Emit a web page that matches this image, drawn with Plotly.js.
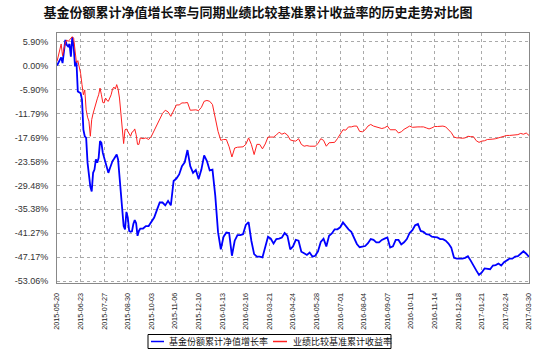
<!DOCTYPE html>
<html>
<head>
<meta charset="utf-8">
<script src="https://cdn.plot.ly/plotly-3.0.1.min.js"></script>
<style>html,body{margin:0;padding:0;background:#fff;}#chart{width:550px;height:352px;}</style>
</head>
<body>
<div id="chart"></div>
<script>
const dates = [
"2015-05-20","2015-05-22","2015-05-24","2015-05-26","2015-05-28","2015-05-30","2015-06-01","2015-06-03","2015-06-05","2015-06-07",
"2015-06-09","2015-06-11","2015-06-13","2015-06-15","2015-06-17","2015-06-19","2015-06-21","2015-06-23","2015-06-25","2015-06-27",
"2015-06-29","2015-07-01","2015-07-03","2015-07-05","2015-07-07","2015-07-09","2015-07-11","2015-07-13","2015-07-15","2015-07-17",
"2015-07-19","2015-07-21","2015-07-23","2015-07-25","2015-07-27","2015-07-29","2015-07-31","2015-08-02","2015-08-04","2015-08-06",
"2015-08-08","2015-08-10","2015-08-12","2015-08-14","2015-08-16","2015-08-18","2015-08-20","2015-08-22","2015-08-24","2015-08-26",
"2015-08-28","2015-08-30","2015-09-01","2015-09-03","2015-09-05","2015-09-07","2015-09-09","2015-09-11","2015-09-13","2015-09-15",
"2015-09-17",
"2015-09-21","2015-09-25","2015-09-29","2015-10-03","2015-10-07","2015-10-11","2015-10-15","2015-10-19","2015-10-23","2015-10-27",
"2015-10-31","2015-11-04","2015-11-08","2015-11-12","2015-11-16","2015-11-20","2015-11-24","2015-11-28","2015-12-02","2015-12-06",
"2015-12-10","2015-12-14","2015-12-18","2015-12-22","2015-12-26","2015-12-30","2016-01-03","2016-01-07","2016-01-11","2016-01-15",
"2016-01-19","2016-01-23","2016-01-27","2016-01-31","2016-02-04","2016-02-08","2016-02-12","2016-02-16","2016-02-20","2016-02-24",
"2016-02-28","2016-03-03","2016-03-07","2016-03-11","2016-03-15","2016-03-19","2016-03-23","2016-03-27","2016-03-31","2016-04-04",
"2016-04-08","2016-04-12","2016-04-16","2016-04-20","2016-04-24","2016-04-28","2016-05-02","2016-05-06","2016-05-10","2016-05-14",
"2016-05-18","2016-05-22","2016-05-26","2016-05-30","2016-06-03","2016-06-07","2016-06-11","2016-06-15","2016-06-19","2016-06-23",
"2016-06-27","2016-07-01","2016-07-05","2016-07-09","2016-07-13","2016-07-17","2016-07-21","2016-07-25","2016-07-29","2016-08-02",
"2016-08-06","2016-08-10","2016-08-14","2016-08-18","2016-08-22","2016-08-26","2016-08-30","2016-09-03","2016-09-07","2016-09-11",
"2016-09-15","2016-09-19","2016-09-23","2016-09-27","2016-10-01","2016-10-05","2016-10-09","2016-10-13","2016-10-17","2016-10-21",
"2016-10-25","2016-10-29","2016-11-02","2016-11-06","2016-11-10","2016-11-14","2016-11-18","2016-11-22","2016-11-26","2016-11-30",
"2016-12-04","2016-12-08","2016-12-12","2016-12-16","2016-12-20","2016-12-24","2016-12-28","2017-01-01","2017-01-05","2017-01-09",
"2017-01-13","2017-01-17","2017-01-21","2017-01-25","2017-01-29","2017-02-02","2017-02-06","2017-02-10","2017-02-14","2017-02-18",
"2017-02-22","2017-02-26","2017-03-02","2017-03-06","2017-03-10","2017-03-14","2017-03-18","2017-03-22","2017-03-26","2017-03-30"
];

const fundGrowth = [
0.0, 0.6, 1.2, 2.0, 0.6, 3.7, 6.3, 5.1, 4.7, 5.3,
2.2, 7.0, 4.7, -0.2, 1.0, -6.4, -6.6, -6.8, -8.4, -15.8,
-17.4, -17.8, -23.9, -26.8, -29.8, -31.0, -26.4, -25.6, -23.1, -23.9,
-22.7, -18.6, -19.0, -21.5, -22.7, -23.9, -25.6, -26.4, -25.4, -24.3,
-23.5, -23.0, -22.3, -21.9, -23.1, -26.8, -30.1, -35.4, -39.5, -40.3,
-36.0, -37.4, -40.7, -40.9, -40.8, -39.0, -38.0, -38.8, -41.9, -40.7,
-40.1,
-40.1, -39.5, -39.5, -38.6, -37.4, -35.5, -33.7, -33.7, -34.4, -33.3,
-34.4, -28.4, -27.8, -26.8, -24.75, -23.8, -20.8, -24.75, -26.4, -25.7,
-27.9, -25.6, -22.1, -23.5, -25.8, -25.6, -32.0, -41.0, -45.2, -42.1,
-41.1, -41.2, -46.8, -43.1, -41.7, -41.7, -41.5, -39.2, -38.5, -43.1,
-46.4, -47.0, -47.0, -47.2, -44.8, -42.1, -42.6, -43.8, -42.7, -42.6,
-42.3, -41.2, -41.9, -45.2, -44.5, -42.9, -43.1, -45.8, -46.2, -46.6,
-46.0, -47.0, -46.8, -45.7, -43.4, -42.6, -44.5, -41.9, -41.3, -40.3,
-40.3, -39.8, -38.6, -39.6, -40.3, -40.9, -42.3, -43.9, -44.7, -44.5,
-44.4, -43.7, -42.7, -42.9, -43.5, -43.5, -42.9, -42.6, -42.3, -44.8,
-44.5, -42.9, -42.9, -44.0, -43.5, -42.7, -41.2, -40.5, -39.3, -39.0,
-40.7, -40.9, -41.5, -41.6, -42.1, -42.2, -42.3, -42.7, -42.7, -43.1,
-43.8, -44.8, -47.3, -47.5, -47.5, -47.5, -47.3, -46.9, -48.0, -49.4,
-50.4, -51.5, -50.9, -49.9, -50.0, -50.1, -49.2, -49.1, -48.7, -49.2,
-48.4, -47.9, -47.5, -47.5, -47.0, -46.9, -46.3, -45.7, -46.3, -47.1
];

const benchmark = [
1.0, 2.4, 3.2, 5.3, 2.4, 4.3, 5.6, 6.3, 5.9, 6.3,
6.7, 7.1, 6.7, 4.3, 0.7, 1.2, -0.6, -1.9, -4.7, -7.2,
-6.0, -10.9, -12.7, -13.7, -17.4, -13.3, -11.8, -10.4, -9.4, -8.2,
-7.2, -5.55, -7.2, -9.1, -9.2, -8.0, -8.6, -8.8, -8.0, -7.2,
-5.8, -5.3, -5.8, -4.7, -5.8, -8.0, -11.7, -15.4, -19.2, -15.8,
-15.6, -16.2, -17.0, -17.4, -16.4, -16.2, -15.6, -17.0, -19.4, -19.4,
-17.8,
-18.0, -17.8, -18.2, -17.4, -15.9, -14.5, -12.9, -11.8, -11.0, -11.4,
-12.5, -11.0, -9.7, -9.7, -9.2, -9.2, -9.1, -11.0, -10.9, -10.9,
-11.1, -10.3, -8.8, -8.6, -8.8, -9.6, -12.9, -16.2, -18.4, -18.2,
-18.2, -20.0, -22.5, -20.3, -20.1, -20.0, -20.0, -19.4, -17.8, -19.4,
-21.9, -19.4, -19.4, -20.5, -19.3, -17.6, -17.6, -17.6, -17.1, -16.4,
-16.9, -16.6, -17.1, -18.3, -18.5, -18.6, -18.0, -19.4, -19.85, -19.7,
-19.85, -19.85, -19.85, -19.2, -18.0, -18.4, -19.85, -19.0, -19.0, -18.9,
-18.0, -16.9, -15.8, -15.9, -15.1, -15.1, -14.9, -14.9, -16.2, -16.3,
-15.8, -14.9, -14.5, -14.9, -15.1, -15.35, -15.5, -15.3, -14.9, -15.8,
-15.8, -15.8, -16.6, -16.3, -15.7, -15.35, -14.9, -15.2, -15.1, -15.1,
-15.1, -15.1, -15.35, -15.6, -15.35, -15.0, -15.0, -14.9, -14.9, -15.1,
-15.8, -16.5, -17.6, -17.8, -17.8, -17.9, -17.8, -17.4, -17.5, -17.5,
-18.5, -18.9, -18.6, -18.5, -18.2, -18.2, -18.1, -18.0, -17.8, -17.6,
-17.3, -17.2, -17.2, -17.1, -17.0, -17.0, -16.7, -16.9, -16.6, -17.2
];

const xTickDates = ["2015-05-20","2015-06-23","2015-07-27","2015-08-30","2015-10-03","2015-11-06","2015-12-10",
"2016-01-13","2016-02-16","2016-03-21","2016-04-24","2016-05-28","2016-07-01","2016-08-04","2016-09-07",
"2016-10-11","2016-11-14","2016-12-18","2017-01-21","2017-02-24","2017-03-30"];
const yTickVals = [5.90, 0.00, -5.90, -11.79, -17.69, -23.58, -29.48, -35.38, -41.27, -47.17, -53.06];
const yTickText = ["5.90%","0.00%","-5.90%","-11.79%","-17.69%","-23.58%","-29.48%","-35.38%","-41.27%","-47.17%","-53.06%"];
const seriesNames = ["基金份额累计净值增长率", "业绩比较基准累计收益率"];
const seriesColors = ["#0000ff", "#ff2020"];
const titleText = "基金份额累计净值增长率与同期业绩比较基准累计收益率的历史走势对比图";

const traces = [
  {x: dates, y: fundGrowth, name: seriesNames[0], type: "scatter", mode: "lines",
   line: {color: seriesColors[0], width: 1.8}},
  {x: dates, y: benchmark, name: seriesNames[1], type: "scatter", mode: "lines",
   line: {color: seriesColors[1], width: 1}}
];

// custom legend box (paper coordinates), matching the reference's compact legend
const legendFont = {family: "Noto Sans CJK SC", size: 9, color: "#111"};
const layout = {
  width: 550, height: 352,
  margin: {l: 57, r: 21, t: 33, b: 69},
  paper_bgcolor: "#ffffff", plot_bgcolor: "#ffffff",
  title: {text: titleText, x: 0.469, xanchor: "center", y: 0.965, yanchor: "middle",
          font: {family: "Noto Sans CJK SC", size: 13, color: "#111", weight: "bold"}},
  xaxis: {type: "date", range: ["2015-05-20", "2017-03-30"], tickvals: xTickDates, ticktext: xTickDates,
          tickangle: -90, tickfont: {family: "Liberation Sans, Arial", size: 7.2, color: "#222"},
          ticklabelstandoff: 6,
          showgrid: true, gridcolor: "#aaaaaa", griddash: "dot", gridwidth: 1,
          showline: true, mirror: true, linecolor: "#888", linewidth: 1, ticks: "", zeroline: false,
          automargin: false, fixedrange: true},
  yaxis: {range: [-53.5, 8.0], tickvals: yTickVals, ticktext: yTickText,
          tickfont: {family: "Liberation Sans, Arial", size: 9, color: "#333"},
          ticklabelstandoff: 6,
          showgrid: true, gridcolor: "#aaaaaa", griddash: "dot", gridwidth: 1,
          showline: true, mirror: true, linecolor: "#888", linewidth: 1, ticks: "", zeroline: false,
          automargin: false, fixedrange: true},
  showlegend: false,
  shapes: [
    {type: "rect", xref: "paper", yref: "paper", x0: 0.1928, x1: 0.7076, y0: -0.262, y1: -0.206,
     line: {color: "#000", width: 1}, fillcolor: "#fff"},
    {type: "line", xref: "paper", yref: "paper", x0: 0.1992, x1: 0.2267, y0: -0.234, y1: -0.234,
     line: {color: seriesColors[0], width: 1.5}},
    {type: "line", xref: "paper", yref: "paper", x0: 0.4576, x1: 0.4873, y0: -0.234, y1: -0.234,
     line: {color: seriesColors[1], width: 1.5}}
  ],
  annotations: [
    {xref: "paper", yref: "paper", x: 0.2331, y: -0.234, xanchor: "left", yanchor: "middle",
     text: seriesNames[0], showarrow: false, font: legendFont},
    {xref: "paper", yref: "paper", x: 0.4958, y: -0.234, xanchor: "left", yanchor: "middle",
     text: seriesNames[1], showarrow: false, font: legendFont}
  ]
};

Plotly.newPlot("chart", traces, layout, {displayModeBar: false, staticPlot: true});
</script>
</body>
</html>
